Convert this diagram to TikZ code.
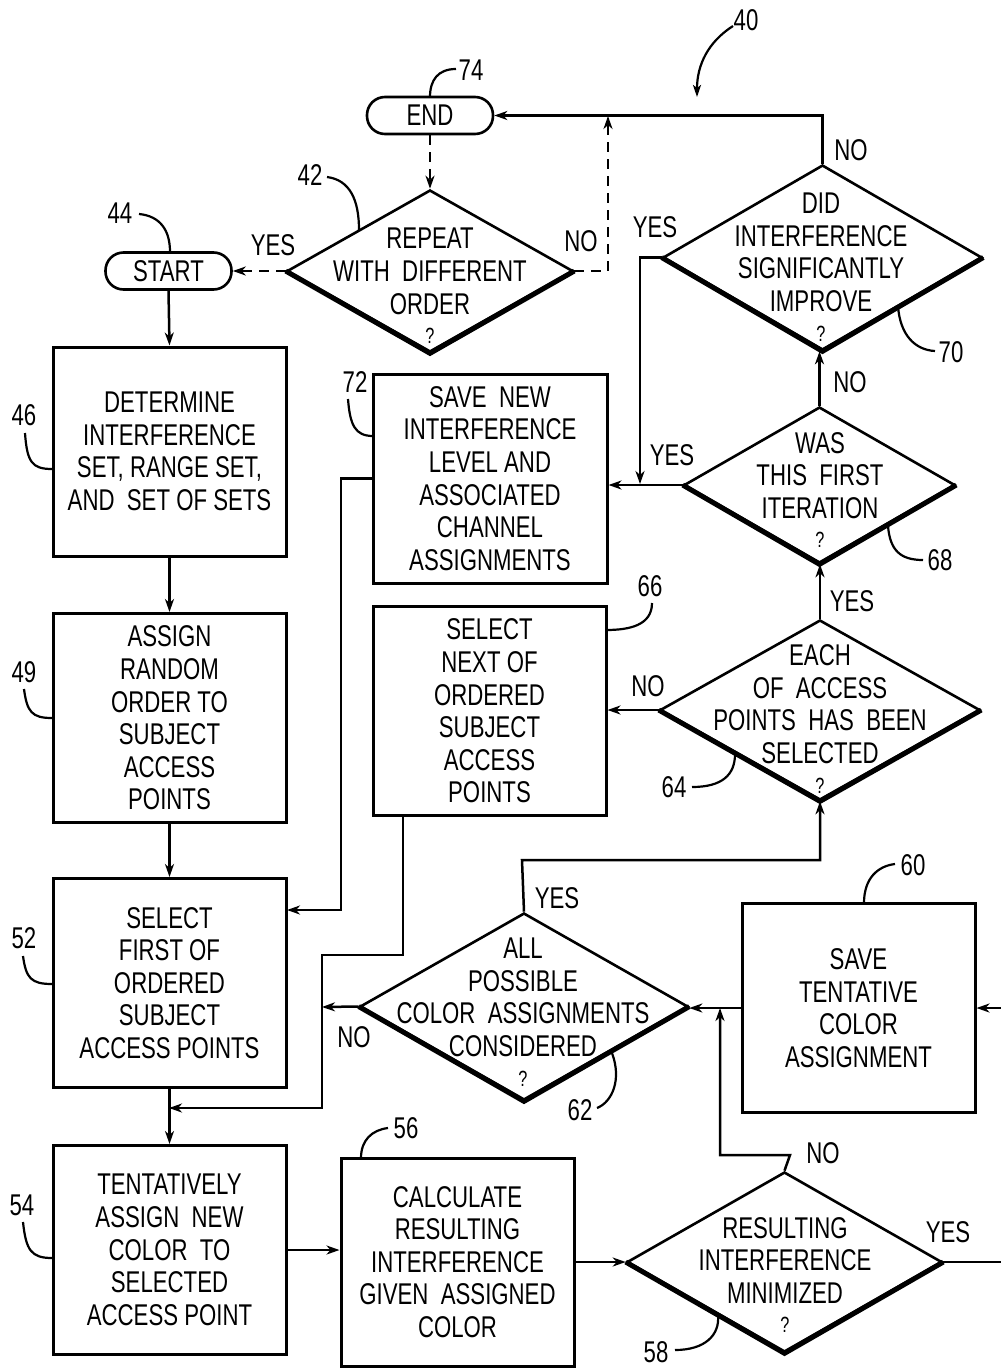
\documentclass[tikz,border=0pt]{standalone}
\usepackage{fontspec}
\setmainfont{Liberation Sans}[FakeStretch=0.74]
\usetikzlibrary{shapes.geometric,arrows.meta}
\begin{document}
\begin{tikzpicture}[x=1pt,y=-1pt,
  every node/.style={font=\fontsize{30}{32.6}\selectfont},
  box/.style={draw,line width=3pt,minimum width=233pt,minimum height=209pt,align=center,inner sep=0pt},
  term/.style={draw,line width=2.6pt,rounded corners=18pt,minimum width=126pt,minimum height=37pt,inner sep=0pt},
  dia/.style={draw,line width=2.6pt,diamond,inner sep=0pt},
  dshade/.style={line width=5pt,line join=miter},
  dtext/.style={align=center,inner sep=0pt},
  lab/.style={inner sep=0pt},
  lead/.style={line width=2.2pt},
  conn/.style={line width=2.5pt,-{Stealth[length=13pt,width=9pt,inset=4pt]}},
  dconn/.style={conn,dash pattern=on 10pt off 7pt},
]
\useasboundingbox (0,0) rectangle (1001,1368);
\clip (0,0) rectangle (1001,1368);
\newcommand{\qm}{{\fontsize{22}{22}\selectfont ?}}

% terminals
\node[term] (end) at (430,115.5) {END};
\node[term] (start) at (168.5,271) {START};

% boxes
\node[box] (b46) at (169.5,451.5) {DETERMINE\\INTERFERENCE\\SET, RANGE SET,\\AND\ \ SET OF SETS};
\node[box] (b49) at (169.5,718) {ASSIGN\\RANDOM\\ORDER TO\\SUBJECT\\ACCESS\\POINTS};
\node[box] (b52) at (169.5,983) {SELECT\\FIRST OF\\ORDERED\\SUBJECT\\ACCESS POINTS};
\node[box] (b54) at (169.5,1250) {TENTATIVELY\\ASSIGN\ \ NEW\\COLOR\ \ TO\\SELECTED\\ACCESS POINT};
\node[box,minimum height=208pt] (b56) at (457.5,1262) {CALCULATE\\RESULTING\\INTERFERENCE\\GIVEN\ \ ASSIGNED\\COLOR};
\node[box] (b60) at (858.5,1008) {SAVE\\TENTATIVE\\COLOR\\ASSIGNMENT};
\node[box] (b66) at (489.5,711) {SELECT\\NEXT OF\\ORDERED\\SUBJECT\\ACCESS\\POINTS};
\node[box,minimum width=234pt] (b72) at (490,478.5) {SAVE\ \ NEW\\INTERFERENCE\\LEVEL AND\\ASSOCIATED\\CHANNEL\\ASSIGNMENTS};

% diamonds
\node[dia,minimum width=286pt,minimum height=162pt] (d42) at (430,271) {};
\node[dia,minimum width=319pt,minimum height=185pt] (d70) at (822.5,257.5) {};
\node[dia,minimum width=271pt,minimum height=156pt] (d68) at (819.5,485) {};
\node[dia,minimum width=320pt,minimum height=180pt] (d64) at (820,710) {};
\node[dia,minimum width=328pt,minimum height=187pt] (d62) at (524,1006.5) {};
\node[dia,minimum width=315pt,minimum height=180pt] (d58) at (784.5,1262) {};
\foreach \d in {d42,d70,d68,d64,d62,d58}{
  \draw[dshade] (\d.west) -- (\d.south) -- (\d.east);
}

\node[dtext] (t42) at (430,286) {REPEAT\\WITH\ \ DIFFERENT\\ORDER\\[-3pt]\qm};
\node[dtext] (t70) at (821,267) {DID\\INTERFERENCE\\SIGNIFICANTLY\\IMPROVE\\[-3pt]\qm};
\node[dtext] (t68) at (820,490) {WAS\\THIS\ \ FIRST\\ITERATION\\[-3pt]\qm};
\node[dtext] (t64) at (820,719) {EACH\\OF\ \ ACCESS\\POINTS\ \ HAS\ \ BEEN\\SELECTED\\[-3pt]\qm};
\node[dtext] (t62) at (523,1012) {ALL\\POSSIBLE\\COLOR\ \ ASSIGNMENTS\\CONSIDERED\\[-3pt]\qm};
\node[dtext] (t58) at (785,1275) {RESULTING\\INTERFERENCE\\MINIMIZED\\[-3pt]\qm};

% junction coordinates
\coordinate (j70) at (640,484);
\coordinate (b52in) at (287,910);
\coordinate (b66out) at (403,816);
\coordinate (m62) at (322,1007);
\coordinate (m54) at (169,1108);
\coordinate (m60) at (720,1008);
\coordinate (m74) at (608,116);

% connectors
\draw[dconn] (end.south) -- (d42.north);
\draw[dconn] (d42.east) -| (m74);
\draw[dconn] (d42.west) -- (start.east);
\draw[conn] (start.south) -- (b46.north);
\draw[conn] (b46.south) -- (b49.north);
\draw[conn] (b49.south) -- (b52.north);
\draw[conn] (b52.south) -- (b54.north);
\draw[conn] (b54.east) -- (b54.east -| b56.west);
\draw[conn] (b56.east) -- (d58.west);
\draw[conn] (d58.north) -- (790,1155) -| (m60);
\draw[conn] (d58.east) -- (1004,1262) |- (b60.east);
\draw[conn] (b60.west) -- (b60.west -| d62.east);
\draw[conn] (d62.north) -- (522,860) -| (d64.south);
\draw[conn] (d62.west) -- (m62);
\draw[conn] (b66out) -- (403,955) -- (322,955) |- (m54);
\draw[conn] (d64.north) -- (d68.south -| d64.north);
\draw[conn] (d64.west) -- (d64.west -| b66.east);
\draw[conn] (d68.north) -- (d70.south -| d68.north);
\draw[conn] (d68.west) -- (d68.west -| b72.east);
\draw[conn] (d70.west) -| (j70);
\draw[conn] (d70.north) |- (end.east);
\draw[conn] (b72.west) -- (341,478.5) |- (b52in);

% edge labels
\node[lab] (y42) at (273,245) {YES};
\node[lab] (n42) at (581,241) {NO};
\node[lab] (n70) at (851,150) {NO};
\node[lab] (y70) at (655,227) {YES};
\node[lab] (y68) at (672,455) {YES};
\node[lab] (n68) at (850,382) {NO};
\node[lab] (y64) at (852,601) {YES};
\node[lab] (n64) at (648,686) {NO};
\node[lab] (y62) at (557,898) {YES};
\node[lab] (n62) at (354,1037) {NO};
\node[lab] (n58) at (823,1153) {NO};
\node[lab] (y58) at (948,1232) {YES};

% reference numerals
\node[lab] (r40) at (746,20) {40};
\node[lab] (r74) at (471,70) {74};
\node[lab] (r42) at (310,175) {42};
\node[lab] (r44) at (120,213) {44};
\node[lab] (r46) at (24,415) {46};
\node[lab] (r49) at (24,672) {49};
\node[lab] (r52) at (24,938) {52};
\node[lab] (r54) at (22,1205) {54};
\node[lab] (r72) at (355,382) {72};
\node[lab] (r66) at (650,586) {66};
\node[lab] (r68) at (940,560) {68};
\node[lab] (r70) at (951,352) {70};
\node[lab] (r64) at (674,787) {64};
\node[lab] (r62) at (580,1110) {62};
\node[lab] (r60) at (913,865) {60};
\node[lab] (r56) at (406,1128) {56};
\node[lab] (r58) at (656,1352) {58};

% leaders
\draw[lead,-{Stealth[length=12pt,width=8pt,inset=3pt]}] (733,26) .. controls (708,42) and (697,65) .. (697,97);
\draw[lead] (456,69) .. controls (438,69) and (430,80) .. (430,97);
\draw[lead] (327,177) .. controls (350,180) and (359,200) .. (359,230);
\draw[lead] (139,214) .. controls (160,216) and (170,230) .. (170,252);
\draw[lead] (25,433) .. controls (27,462) and (32,469) .. (52,469);
\draw[lead] (24,689) .. controls (27,712) and (32,718) .. (52,718);
\draw[lead] (23,956) .. controls (26,978) and (31,984) .. (52,984);
\draw[lead] (23,1222) .. controls (26,1250) and (31,1258) .. (52,1258);
\draw[lead] (348,399) .. controls (350,425) and (355,436) .. (373,436);
\draw[lead] (652,603) .. controls (652,625) and (630,630) .. (606,630);
\draw[lead] (888,526) .. controls (890,550) and (900,560) .. (923,560);
\draw[lead] (898,306) .. controls (900,335) and (915,350) .. (935,351);
\draw[lead] (735,754) .. controls (735,775) and (722,787) .. (692,787);
\draw[lead] (612,1053) .. controls (622,1080) and (612,1102) .. (597,1108);
\draw[lead] (895,864) .. controls (878,866) and (864,878) .. (864,903);
\draw[lead] (388,1128) .. controls (372,1130) and (361,1140) .. (361,1158);
\draw[lead] (718,1315) .. controls (720,1335) and (705,1350) .. (675,1350);
\end{tikzpicture}
\end{document}
